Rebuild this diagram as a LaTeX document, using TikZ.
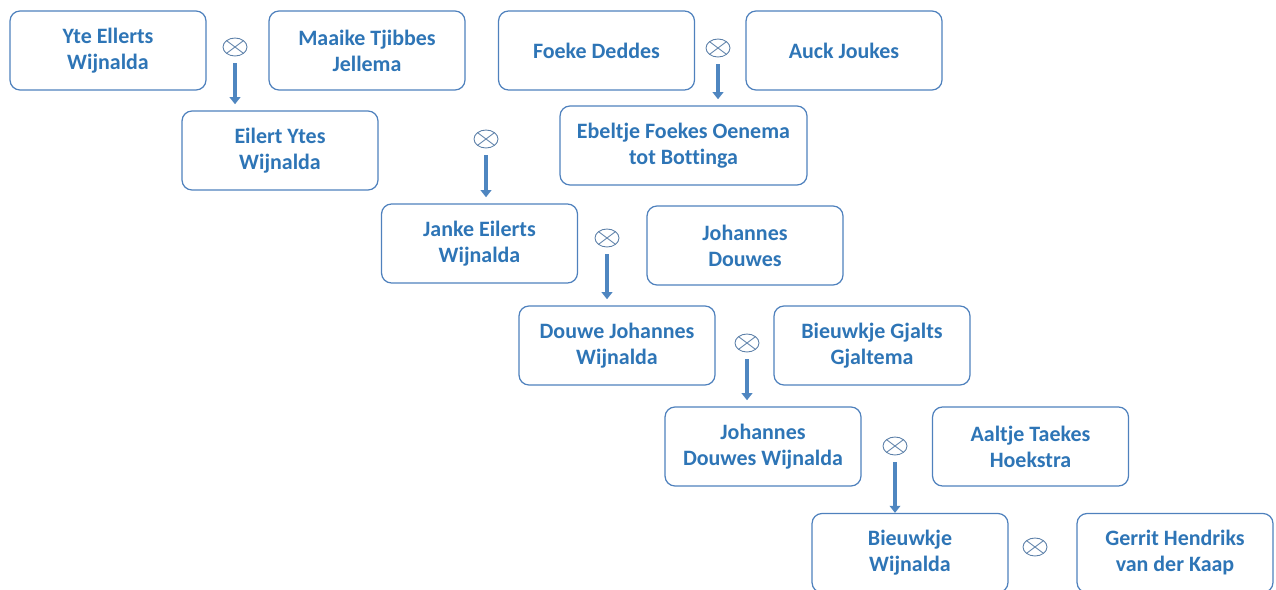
\documentclass[tikz,border=0pt]{standalone}
\usepackage{fontspec}
\setmainfont{Carlito}[Ligatures=NoCommon]
\usetikzlibrary{arrows.meta,shapes.geometric}

\definecolor{boxline}{HTML}{4F81BD}
\definecolor{nametext}{HTML}{2E75B6}
\definecolor{arrowblue}{HTML}{4F86C0}
\definecolor{ringline}{HTML}{5B7FA8}

\tikzset{
    person/.style={draw=boxline, line width=0.7pt, rounded corners=0.2cm,
        minimum width=3.92cm, minimum height=1.58cm, align=center,
        text=nametext, inner sep=2pt,
        font=\fontsize{12.5}{14.8}\selectfont\bfseries},
    marriage/.style={ellipse, draw=ringline, line width=0.5pt,
        minimum width=0.48cm, minimum height=0.36cm, inner sep=0pt,
        path picture={\draw[ringline, line width=0.5pt]
            (path picture bounding box.south west) -- (path picture bounding box.north east)
            (path picture bounding box.north west) -- (path picture bounding box.south east);}},
    descent/.style={draw=arrowblue, line width=2pt,
        -{Triangle[width=6pt,length=4pt]}, shorten <=4pt, shorten >=3.5pt}
}

\begin{document}
\begin{tikzpicture}[x=0.02cm, y=-0.02cm]
    \useasboundingbox (0,0) rectangle (1276,589);

    % generation 1
    \node[person] (yte)    at (108,50.5)  {Yte Ellerts\\Wijnalda};
    \node[person] (maaike) at (367,50.5)  {Maaike Tjibbes\\Jellema};
    \node[person] (foeke)  at (596.5,50.5) {Foeke Deddes};
    \node[person] (auck)   at (844,50.5)  {Auck Joukes};

    % generation 2
    \node[person] (eilert)  at (280,150.5) {Eilert Ytes\\Wijnalda};
    \node[person, minimum width=4.94cm] (ebeltje) at (683.5,145.5) {Ebeltje Foekes Oenema\\tot Bottinga};

    % generation 3 and on
    \node[person] (janke)    at (479.5,243.5) {Janke Eilerts\\Wijnalda};
    \node[person] (johannes) at (745,245.5)   {Johannes\\Douwes};
    \node[person] (douwe)    at (617,345.5)   {Douwe Johannes\\Wijnalda};
    \node[person] (gjaltema) at (872,345.5)   {Bieuwkje Gjalts\\Gjaltema};
    \node[person] (johwijn)  at (763,446.5)   {Johannes\\Douwes Wijnalda};
    \node[person] (aaltje)   at (1030.5,446.5) {Aaltje Taekes\\Hoekstra};
    \node[person] (bieuwkje) at (910,553)     {Bieuwkje\\Wijnalda};
    \node[person] (gerrit)   at (1175,553)    {Gerrit Hendriks\\van der Kaap};

    % marriages
    \node[marriage] (m1) at (235,47)  {};
    \node[marriage] (m2) at (718,48)  {};
    \node[marriage] (m3) at (486,139) {};
    \node[marriage] (m4) at (607,238) {};
    \node[marriage] (m5) at (747,343) {};
    \node[marriage] (m6) at (895,446) {};
    \node[marriage] (m7) at (1035,547) {};

    % descent
    \draw[descent] (m1.south) -- (m1.south |- eilert.north);
    \draw[descent] (m2.south) -- (m2.south |- ebeltje.north);
    \draw[descent] (m3.south) -- (m3.south |- janke.north);
    \draw[descent] (m4.south) -- (m4.south |- douwe.north);
    \draw[descent] (m5.south) -- (m5.south |- johwijn.north);
    \draw[descent, shorten >=0pt] (m6.south) -- (m6.south |- bieuwkje.north);

\end{tikzpicture}
\end{document}
